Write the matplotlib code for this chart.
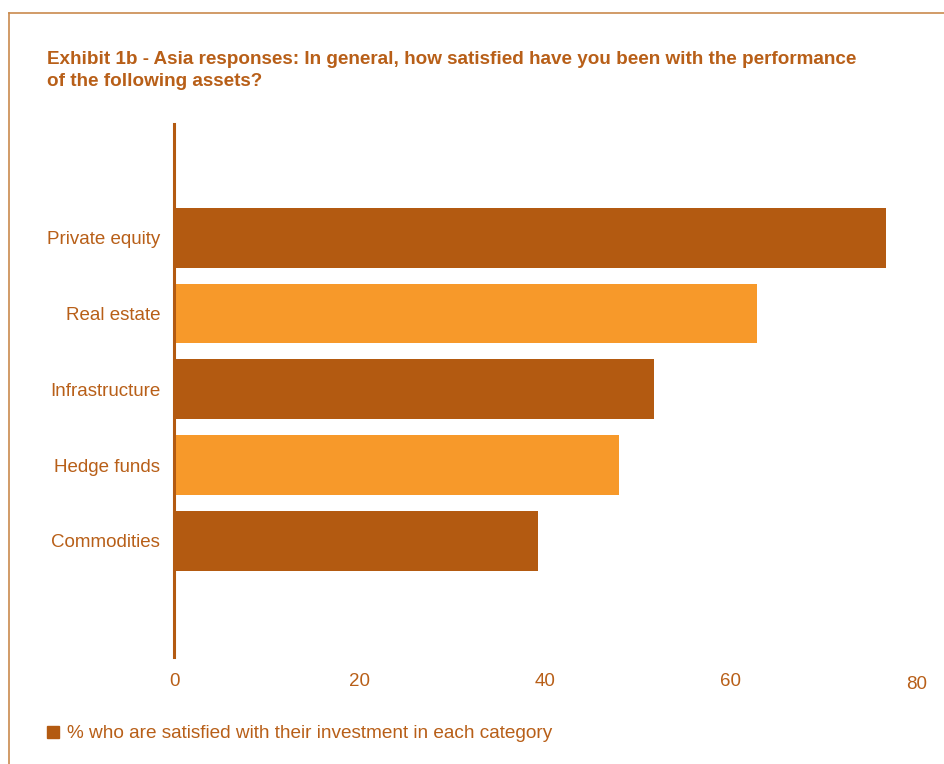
import matplotlib.pyplot as plt
from matplotlib.lines import Line2D
from matplotlib.patches import Rectangle
import matplotlib.transforms as mtransforms

plt.rcParams["font.family"] = ["Liberation Sans", "DejaVu Sans"]

# ── Data ───────────────────────────────────────
categories = ["Private equity", "Real estate", "Infrastructure", "Hedge funds", "Commodities"]
values = [76.8, 62.9, 51.7, 48.0, 39.2]
xticks = [0, 20, 40, 60, 80]

dark = "#b35a11"
light = "#f7992a"
text_col = "#b85f18"
frame_col = "#c98a4e"
bar_colors = [dark, light, dark, light, dark]

W, H = 944, 764
fig = plt.figure(figsize=(W / 100, H / 100), dpi=100)

# axes box in pixels: x 174..916, y 124..657
ax = fig.add_axes([174 / W, 1 - 657 / H, (916 - 174) / W, (657 - 124) / H])
ypos = list(range(len(categories)))
ax.barh(ypos, values, height=0.79, color=bar_colors)
ax.set_xlim(0, 80)
ax.set_ylim(len(categories) - 1 + 1.53, -1.5)

ax.set_yticks(ypos)
ax.set_yticklabels(categories, fontsize=13.5, color=text_col)
ax.set_xticks(xticks)
ax.set_xticklabels([str(t) for t in xticks], fontsize=13.5, color=text_col)
ax.tick_params(axis="y", length=0, pad=10)
ax.tick_params(axis="x", length=0, pad=11.5)

# the "80" label sits a bit lower in the original
lab80 = ax.get_xticklabels()[-1]
lab80.set_transform(lab80.get_transform() + mtransforms.ScaledTranslation(1 / 100, -3 / 100, fig.dpi_scale_trans))

for s in ["top", "right", "bottom"]:
    ax.spines[s].set_visible(False)
ax.spines["left"].set_color(dark)
ax.spines["left"].set_linewidth(2.2)

# ── Title ──────────────────────────────────────
title_lines = ["Exhibit 1b - Asia responses: In general, how satisfied have you been with the performance",
               "of the following assets?"]
for i, line in enumerate(title_lines):
    fig.text(47 / W, 1 - (59 + 23 * i) / H, line,
             fontsize=13.55, fontweight="bold", color=text_col, va="center", ha="left")

# ── Legend ─────────────────────────────────────
fig.add_artist(Rectangle((47 / W, 1 - 738 / H), 12 / W, 12 / H, transform=fig.transFigure, color=dark))
fig.text(67 / W, 1 - 733 / H, "% who are satisfied with their investment in each category",
         fontsize=13.7, color=text_col, va="center", ha="left")

# ── Frame ──────────────────────────────────────
fig.add_artist(Line2D([9 / W, 9 / W], [0, 1 - 13 / H], transform=fig.transFigure, color=frame_col, lw=1.2))
fig.add_artist(Line2D([9 / W, 1], [1 - 13 / H, 1 - 13 / H], transform=fig.transFigure, color=frame_col, lw=1.2))

fig.savefig("out.png", dpi=100)
